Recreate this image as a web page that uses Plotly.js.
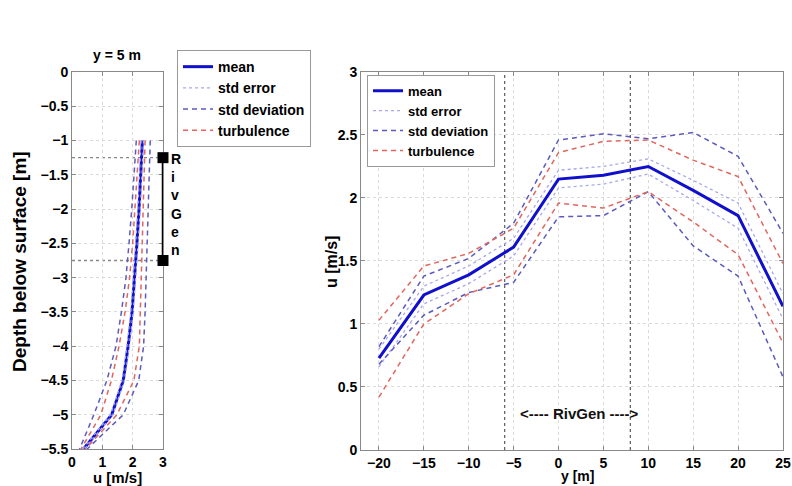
<!DOCTYPE html>
<html>
<head>
<meta charset="utf-8">
<script src="https://cdn.plot.ly/plotly-3.0.1.min.js"></script>
<style>html,body{margin:0;padding:0;background:#fff;}#chart{width:792px;height:486px;}</style>
</head>
<body>
<div id="chart"></div>
<script>
// ---- Left panel: vertical profile at y = 5 m ----
const depth = [-1, -1.5, -2, -2.5, -3, -3.5, -4, -4.5, -5, -5.5];
const profMean = [2.32, 2.27, 2.21, 2.14, 2.07, 1.98, 1.85, 1.69, 1.31, 0.38];
const profSeUp = [2.36, 2.31, 2.25, 2.18, 2.11, 2.02, 1.89, 1.73, 1.35, 0.41];
const profSeLo = [2.28, 2.23, 2.17, 2.10, 2.03, 1.94, 1.81, 1.65, 1.27, 0.35];
const profSdUp = [2.58, 2.55, 2.52, 2.48, 2.45, 2.41, 2.36, 2.20, 1.69, 0.50];
const profSdLo = [2.12, 2.05, 1.97, 1.88, 1.78, 1.63, 1.45, 1.15, 0.72, 0.25];
const profTuUp = [2.41, 2.38, 2.35, 2.31, 2.27, 2.24, 2.22, 2.04, 1.48, 0.45];
const profTuLo = [2.22, 2.15, 2.08, 2.00, 1.90, 1.75, 1.55, 1.30, 0.95, 0.30];
const rivgenDepth = [-1.25, -2.75];
const rivgenMarkX = [3, 3];

// ---- Right panel: transverse profile ----
const yPos = [-20, -15, -10, -5, 0, 5, 10, 15, 20, 25];
const uMean = [0.73, 1.23, 1.39, 1.61, 2.15, 2.18, 2.25, 2.06, 1.86, 1.14];
const uSeUp = [0.80, 1.30, 1.46, 1.68, 2.22, 2.25, 2.31, 2.14, 1.96, 1.24];
const uSeLo = [0.66, 1.16, 1.32, 1.54, 2.08, 2.11, 2.19, 1.98, 1.76, 1.04];
const uSdUp = [0.82, 1.38, 1.52, 1.80, 2.46, 2.51, 2.47, 2.52, 2.33, 1.72];
const uSdLo = [0.68, 1.07, 1.25, 1.33, 1.85, 1.86, 2.05, 1.62, 1.38, 0.58];
const uTuUp = [1.03, 1.46, 1.56, 1.76, 2.36, 2.45, 2.46, 2.30, 2.17, 1.48];
const uTuLo = [0.42, 1.00, 1.24, 1.39, 1.96, 1.92, 2.05, 1.81, 1.55, 0.85];
const rivgenY = [-6, 8];

const cMean = '#1010cc', cSe = '#a8a8ee', cSd = '#5a5abf', cTu = '#e0665e';
const F = 'Liberation Sans, Arial, sans-serif';

function tr(x, y, name, color, dash, width, showleg, xa, ya, leg) {
  return {x: x, y: y, name: name, type: 'scatter', mode: 'lines',
    line: {color: color, dash: dash, width: width},
    showlegend: showleg, xaxis: xa, yaxis: ya, legend: leg, legendgroup: name + leg};
}

const data = [
  // left
  tr(profMean, depth, 'mean', cMean, 'solid', 3, true, 'x', 'y', 'legend'),
  tr(profSeUp, depth, 'std error', cSe, 'dot', 1.3, true, 'x', 'y', 'legend'),
  tr(profSeLo, depth, 'std error', cSe, 'dot', 1.3, false, 'x', 'y', 'legend'),
  tr(profSdUp, depth, 'std deviation', cSd, '5px,4px', 1.5, true, 'x', 'y', 'legend'),
  tr(profSdLo, depth, 'std deviation', cSd, '5px,4px', 1.5, false, 'x', 'y', 'legend'),
  tr(profTuUp, depth, 'turbulence', cTu, '5px,4px', 1.5, true, 'x', 'y', 'legend'),
  tr(profTuLo, depth, 'turbulence', cTu, '5px,4px', 1.5, false, 'x', 'y', 'legend'),
  {x: rivgenMarkX, y: rivgenDepth, type: 'scatter', mode: 'lines+markers', showlegend: false,
   xaxis: 'x', yaxis: 'y', cliponaxis: false,
   line: {color: '#000', width: 2.5}, marker: {symbol: 'square', size: 11, color: '#000'}},
  // right
  tr(yPos, uMean, 'mean', cMean, 'solid', 3, true, 'x2', 'y2', 'legend2'),
  tr(yPos, uSeUp, 'std error', cSe, 'dot', 1.3, true, 'x2', 'y2', 'legend2'),
  tr(yPos, uSeLo, 'std error', cSe, 'dot', 1.3, false, 'x2', 'y2', 'legend2'),
  tr(yPos, uSdUp, 'std deviation', cSd, '5px,4px', 1.5, true, 'x2', 'y2', 'legend2'),
  tr(yPos, uSdLo, 'std deviation', cSd, '5px,4px', 1.5, false, 'x2', 'y2', 'legend2'),
  tr(yPos, uTuUp, 'turbulence', cTu, '5px,4px', 1.5, true, 'x2', 'y2', 'legend2'),
  tr(yPos, uTuLo, 'turbulence', cTu, '5px,4px', 1.5, false, 'x2', 'y2', 'legend2')
];

const tickF = {family: F, size: 14, color: '#000', weight: 'bold'};
const axBase = {showline: true, linecolor: '#888', linewidth: 1, mirror: 'ticks', ticks: 'inside',
  ticklen: 4, tickcolor: '#888', showgrid: true, gridcolor: '#dadada', griddash: 'dot', gridwidth: 1,
  zeroline: false, tickfont: tickF, layer: 'below traces'};

const shapes = [];
rivgenDepth.forEach(d => shapes.push({type: 'line', xref: 'x', yref: 'y', x0: 0, x1: 3, y0: d, y1: d,
  line: {color: '#888', width: 1.3, dash: 'dot'}, layer: 'below'}));
rivgenY.forEach(v => shapes.push({type: 'line', xref: 'x2', yref: 'y2 domain', x0: v, x1: v, y0: 0, y1: 1,
  line: {color: '#666', width: 1.3, dash: 'dot'}, layer: 'below'}));

const legBase = {bgcolor: '#fff', bordercolor: '#999', borderwidth: 1, xanchor: 'left', yanchor: 'top',
  tracegroupgap: 0, itemwidth: 30};
const titleF = s => ({family: F, size: s, color: '#000', weight: 'bold'});

const layout = {
  width: 792, height: 486, margin: {l: 0, r: 0, t: 0, b: 0},
  paper_bgcolor: '#fff', plot_bgcolor: '#fff',
  showlegend: true,
  xaxis: Object.assign({}, axBase, {domain: [0.0909, 0.2058], range: [0, 3], tickvals: [0, 1, 2, 3]}),
  yaxis: Object.assign({}, axBase, {domain: [0.0761, 0.8519], range: [-5.5, 0],
    tickvals: [0, -0.5, -1, -1.5, -2, -2.5, -3, -3.5, -4, -4.5, -5, -5.5],
    ticktext: ['0', '\u22120.5', '\u22121', '\u22121.5', '\u22122', '\u22122.5', '\u22123', '\u22123.5', '\u22124', '\u22124.5', '\u22125', '\u22125.5']}),
  xaxis2: Object.assign({}, axBase, {domain: [0.4558, 0.9886], range: [-22, 25], anchor: 'y2',
    tickvals: [-20, -15, -10, -5, 0, 5, 10, 15, 20, 25],
    ticktext: ['\u221220', '\u221215', '\u221210', '\u22125', '0', '5', '10', '15', '20', '25']}),
  yaxis2: Object.assign({}, axBase, {domain: [0.0741, 0.8519], range: [0, 3], anchor: 'x2', dtick: 0.5}),
  legend: Object.assign({}, legBase, {x: 0.2235, y: 0.897, font: titleF(14)}),
  legend2: Object.assign({}, legBase, {x: 0.4634, y: 0.846, font: titleF(13)}),
  shapes: shapes,
  annotations: [
    {text: 'y = 5 m', xref: 'x domain', yref: 'paper', x: 0.5, y: 1 - 55 / 486, yanchor: 'middle',
     showarrow: false, font: titleF(14)},
    {text: 'Depth below surface [m]', xref: 'paper', yref: 'paper', x: 19 / 792, y: 1 - 262 / 486,
     textangle: -90, showarrow: false, xanchor: 'center', yanchor: 'middle', font: titleF(19)},
    {text: 'u [m/s]', xref: 'paper', yref: 'paper', x: 118 / 792, y: 1 - 477 / 486,
     showarrow: false, xanchor: 'center', yanchor: 'middle', font: titleF(15)},
    {text: 'u [m/s]', xref: 'paper', yref: 'paper', x: 331 / 792, y: 1 - 262 / 486,
     textangle: -90, showarrow: false, xanchor: 'center', yanchor: 'middle', font: titleF(16)},
    {text: 'y [m]', xref: 'paper', yref: 'paper', x: 577 / 792, y: 1 - 476 / 486,
     showarrow: false, xanchor: 'center', yanchor: 'middle', font: titleF(14)},
    {text: 'R<br>i<br>v<br>G<br>e<br>n', xref: 'paper', yref: 'y', x: 0.2140, y: -1.25, yanchor: 'top',
     xanchor: 'left', align: 'left', showarrow: false, yshift: 9, font: titleF(14)},
    {text: '<---- RivGen ---->', xref: 'x2', yref: 'y2', x: 2.3, y: 0.29, showarrow: false,
     font: {family: F, size: 15, color: '#111', weight: 'bold'}}
  ]
};

Plotly.newPlot('chart', data, layout, {displayModeBar: false, staticPlot: true});
</script>
</body>
</html>
